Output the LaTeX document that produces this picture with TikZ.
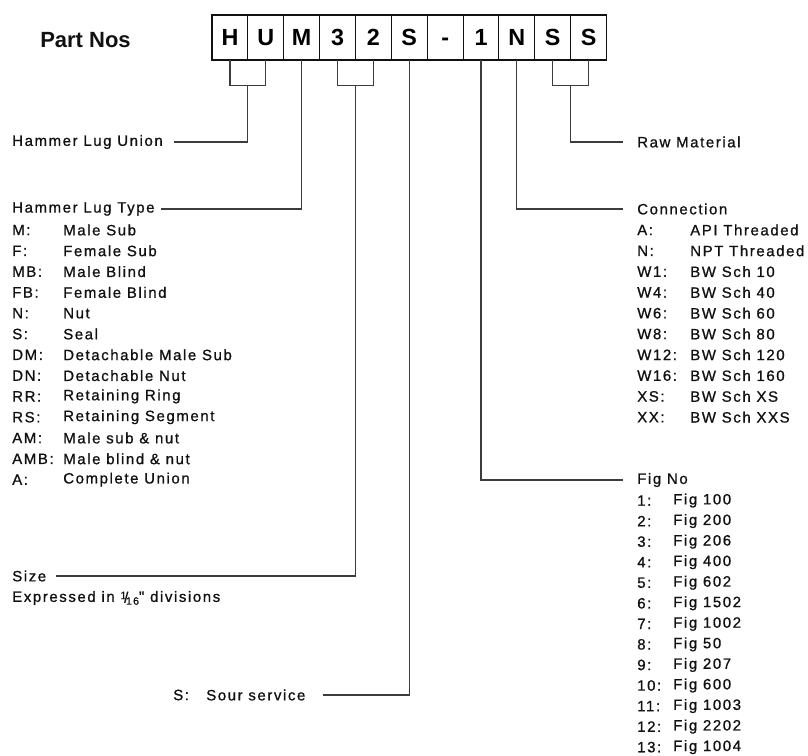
\documentclass[tikz,border=0pt]{standalone}
\usepackage{fontspec}
\setmainfont{Liberation Sans}
\newfontfamily\listfont[LetterSpace=10.5,FakeBold=0.9]{Liberation Sans}
\usepackage{tikz}
\usetikzlibrary{positioning,calc}
\definecolor{ink}{HTML}{111111}
\definecolor{wire}{HTML}{3c3c3c}
\newcommand{\sixteenth}{{\raisebox{0.35ex}{\fontsize{8}{9}\selectfont 1}\kern-0.15em\raisebox{-0.1ex}{/}\kern-0.15em\raisebox{-0.35ex}{\fontsize{8}{9}\selectfont 16}}}

\begin{document}
\begin{tikzpicture}[x=0.75pt,y=-0.75pt,
  cell/.style={draw=ink,line width=0.8pt,minimum width=26.9pt,minimum height=33.75pt,inner sep=0pt,outer sep=0pt,text height=12.6pt,text depth=0pt,font=\fontsize{17.5}{20}\selectfont\bfseries},
  lbl/.style={anchor=west,inner sep=0pt,text=ink,font=\listfont\fontsize{11.25}{13}\selectfont},
  lead/.style={draw=wire,line width=0.9pt}]
  \useasboundingbox (0,0) rectangle (808,756);
  % code cells
  \node[anchor=west,inner sep=0pt,text=ink,font=\fontsize{16.5}{19}\selectfont\bfseries] (title) at (40,40) {Part Nos};
  \node[cell,anchor=north west] (c1) at (212,15) {H};
  \foreach \t [count=\i from 2,remember=\i as \j (initially 1)] in {U,M,3,2,S,-,1,N,S,S}
    \node[cell,right=0pt of c\j] (c\i) {\t};
  % brackets under paired cells
  \draw[lead] (c1.south) -- ++(0,25.5) -| (c2.south);
  \draw[lead] (c4.south) -- ++(0,25.5) -| (c5.south);
  \draw[lead] (c10.south) -- ++(0,25.5) -| (c11.south);
  \coordinate (hu) at ($(c1.south)!.5!(c2.south)+(0,25.5)$);
  \coordinate (sz) at ($(c4.south)!.5!(c5.south)+(0,25.5)$);
  \coordinate (ss) at ($(c10.south)!.5!(c11.south)+(0,25.5)$);
  % left side
  \node[lbl] (union) at (12,142) {Hammer Lug Union};
  \node[lbl] (type) at (12,209) {Hammer Lug Type};
  \foreach \p/\q [count=\i from 0] in {M:/Male Sub,F:/Female Sub,MB:/Male Blind,FB:/Female Blind,N:/Nut,S:/Seal,DM:/Detachable Male Sub,DN:/Detachable Nut,RR:/Retaining Ring,RS:/Retaining Segment,AM:/Male sub \& nut,AMB:/Male blind \& nut,A:/Complete Union}{
    \node[lbl] (tk\i) at (12,{230+20.8*\i}) {\p};
    \node[lbl] (tv\i) at (63,{230+20.8*\i}) {\q};
  }
  \node[lbl] (size) at (12,576) {Size};
  \node[lbl] (expr) at (12,598) {Expressed in \sixteenth" divisions};
  \node[lbl] (sourkey) at (173,695) {S:};
  \node[lbl] (sour) at (206,695) {Sour service};
  % right side
  \node[lbl] (raw) at (637,142) {Raw Material};
  \node[lbl] (conn) at (637,209) {Connection};
  \foreach \p/\q [count=\i from 0] in {A:/API Threaded,N:/NPT Threaded,W1:/BW Sch 10,W4:/BW Sch 40,W6:/BW Sch 60,W8:/BW Sch 80,W12:/BW Sch 120,W16:/BW Sch 160,XS:/BW Sch XS,XX:/BW Sch XXS}{
    \node[lbl] (ck\i) at (637,{230+20.8*\i}) {\p};
    \node[lbl] (cv\i) at (690,{230+20.8*\i}) {\q};
  }
  \node[lbl] (fig) at (637,480) {Fig No};
  \foreach \q [count=\i from 1] in {100,200,206,400,602,1502,1002,50,207,600,1003,2202,1004}{
    \node[lbl] (fk\i) at (637,{480+20.55*\i}) {\i:};
    \node[lbl] (fv\i) at (673,{480+20.55*\i}) {Fig \q};
  }
  % leaders
  \draw[lead,shorten >=8pt] (hu) |- (union.east);
  \draw[lead,shorten >=5pt] (c3.south) |- (type.east);
  \draw[lead,shorten >=7pt] (sz) |- (size.east);
  \draw[lead,shorten >=13pt] (c6.south) |- (sour.east);
  \draw[lead,shorten >=10.5pt] (c8.south) |- (fig.west);
  \draw[lead,shorten >=10.5pt] (c9.south) |- (conn.west);
  \draw[lead,shorten >=10.5pt] (ss) |- (raw.west);
\end{tikzpicture}
\end{document}
